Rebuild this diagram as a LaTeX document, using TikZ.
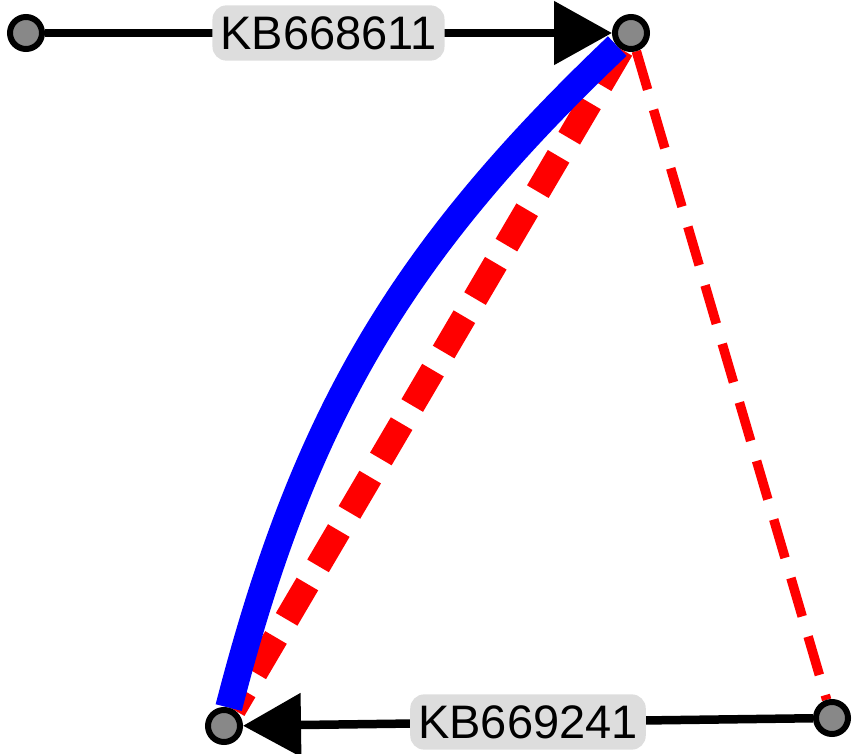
\documentclass[tikz,border=0pt]{standalone}
\usepackage{fontspec}
\setmainfont{Liberation Sans}
\usetikzlibrary{arrows.meta}
\definecolor{vgray}{HTML}{888888}
\definecolor{lblgray}{HTML}{DDDDDD}
\begin{document}
\begin{tikzpicture}[x=1pt,y=-1pt,
  vtx/.style={circle,draw=black,line width=6pt,fill=vgray,inner sep=0pt,minimum size=32pt},
  lbl/.style={fill=lblgray,rounded corners=14pt,inner xsep=8pt,inner ysep=11pt,text=black,font=\fontsize{47}{47}\selectfont},
  blackedge/.style={draw=black,line width=8.5pt,-{Triangle[length=58pt,width=62pt]}},
  thickred/.style={draw=red,line width=25pt,dash pattern=on 41pt off 21pt},
  thinred/.style={draw=red,line width=9.5pt,dash pattern=on 40pt off 21pt},
  blueedge/.style={draw=blue,line width=27pt}]
\useasboundingbox (0,0) rectangle (867,754);
% vertex positions
\coordinate (pA) at (26,33);
\coordinate (pB) at (631,33);
\coordinate (pC) at (224,726);
\coordinate (pD) at (832,718);
% invisible anchors for edges (same shape as vertices)
\node[vtx,draw=none,fill=none] (A) at (pA) {};
\node[vtx,draw=none,fill=none] (B) at (pB) {};
\node[vtx,draw=none,fill=none] (C) at (pC) {};
\node[vtx,draw=none,fill=none] (D) at (pD) {};
% edges
\draw[blackedge] (A) -- node[lbl] {KB668611} (B);
\draw[blackedge] (D) -- node[lbl] {KB669241} (C);
\draw[thinred] (B) -- (D);
\draw[thickred] (B) -- (C);
\draw[blueedge] (C) to[bend left=16] (B);
% vertices on top
\node[vtx] at (pA) {};
\node[vtx] at (pB) {};
\node[vtx] at (pC) {};
\node[vtx] at (pD) {};
\end{tikzpicture}
\end{document}
